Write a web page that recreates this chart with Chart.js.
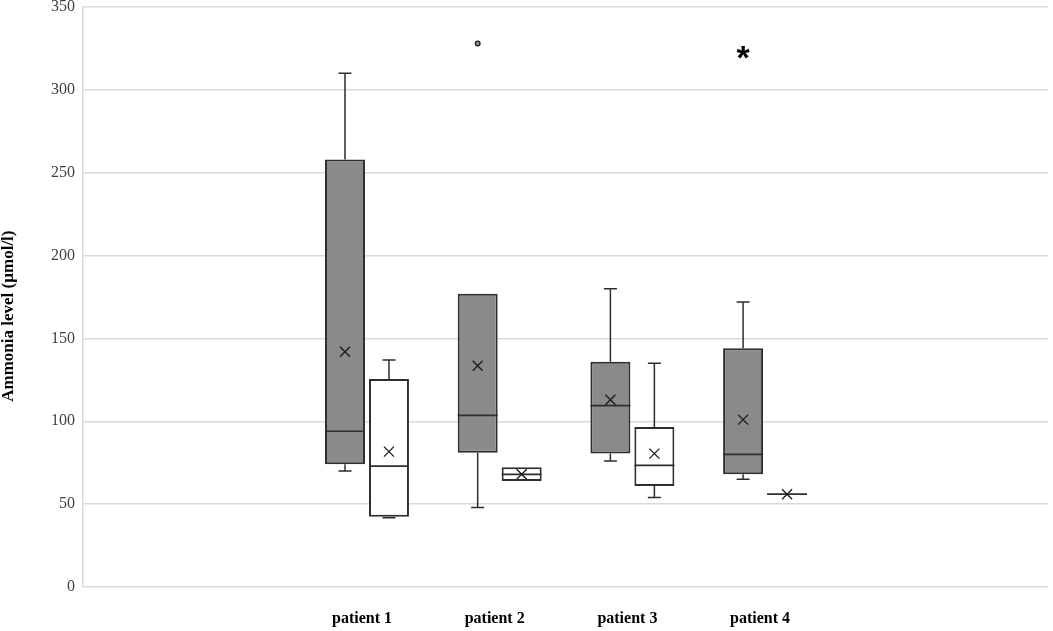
<!DOCTYPE html>
<html>
<head>
<meta charset="utf-8">
<script src="https://cdn.jsdelivr.net/npm/chart.js@4"></script>
<style>
html,body{margin:0;padding:0;background:#fff;}
#wrap{width:1053px;height:631px;position:relative;}
</style>
</head>
<body>
<div id="wrap"><canvas id="c" width="1053" height="631"></canvas></div>
<script>
// ---- data ----
const categories = ['patient 1', 'patient 2', 'patient 3', 'patient 4'];
const tickPositions = [1, 2, 3, 4];
const yTicks = [0, 50, 100, 150, 200, 250, 300, 350];

// Series A (grey boxes)
const greyMin    = [70, 48, 76, 65];
const greyQ1     = [74, 81, 80.5, 68];
const greyMedian = [94, 103.6, 109.4, 80];
const greyQ3     = [258, 177, 136, 144];
const greyMax    = [310, 177, 180, 172];
const greyMean   = [142, 133.5, 113, 101];
const greyOutliers = [[], [328], [], []];
const greyExtremes = [[], [], [], [322.5]];

// Series B (white boxes)
const whiteMin    = [41.8, 64, 54, 56];
const whiteQ1     = [42.4, 64, 61, 56];
const whiteMedian = [73, 68, 73.4, 56];
const whiteQ3     = [125.5, 72.2, 96.6, 56];
const whiteMax    = [137, 72.2, 135, 56];
const whiteMean   = [81.7, 68, 80.5, 56];
const whiteOutliers = [[], [], [], []];
const whiteExtremes = [[], [], [], []];

const series = [
  {label: 'grey', fill: '#8a8a8a', min: greyMin, q1: greyQ1, med: greyMedian, q3: greyQ3, max: greyMax, mean: greyMean, out: greyOutliers, ext: greyExtremes},
  {label: 'white', fill: '#ffffff', min: whiteMin, q1: whiteQ1, med: whiteMedian, q3: whiteQ3, max: whiteMax, mean: whiteMean, out: whiteOutliers, ext: whiteExtremes}
];

const STROKE = '#2e2e2e';

const boxPlugin = {
  id: 'boxExtras',
  afterDatasetsDraw(chart) {
    const ctx = chart.ctx;
    const ys = chart.scales.y;
    series.forEach((s, di) => {
      const meta = chart.getDatasetMeta(di);
      meta.data.forEach((bar, i) => {
        const cx = bar.x;
        const half = bar.width / 2;
        const py = v => ys.getPixelForValue(v);
        ctx.save();
        ctx.strokeStyle = STROKE;
        ctx.lineWidth = 1.5;
        ctx.lineCap = 'butt';
        const cap = 6.5;
        if (s.max[i] > s.q3[i]) {
          ctx.beginPath();
          ctx.moveTo(cx, py(s.q3[i])); ctx.lineTo(cx, py(s.max[i]));
          ctx.moveTo(cx - cap, py(s.max[i])); ctx.lineTo(cx + cap, py(s.max[i]));
          ctx.stroke();
        }
        if (s.min[i] < s.q1[i]) {
          ctx.beginPath();
          ctx.moveTo(cx, py(s.q1[i])); ctx.lineTo(cx, py(s.min[i]));
          ctx.moveTo(cx - cap, py(s.min[i])); ctx.lineTo(cx + cap, py(s.min[i]));
          ctx.stroke();
        }
        // median
        ctx.lineWidth = 1.7;
        ctx.beginPath();
        ctx.moveTo(cx - half, py(s.med[i])); ctx.lineTo(cx + half, py(s.med[i]));
        ctx.stroke();
        // mean (x marker)
        const my = py(s.mean[i]);
        const r = 5;
        ctx.strokeStyle = '#1a1a1a';
        ctx.lineWidth = 1.3;
        ctx.beginPath();
        ctx.moveTo(cx - r, my - r); ctx.lineTo(cx + r, my + r);
        ctx.moveTo(cx - r, my + r); ctx.lineTo(cx + r, my - r);
        ctx.stroke();
        // outliers (circles)
        s.out[i].forEach(v => {
          ctx.beginPath();
          ctx.arc(cx, py(v), 2.3, 0, Math.PI * 2);
          ctx.fillStyle = '#9a9a9a';
          ctx.fill();
          ctx.strokeStyle = '#222';
          ctx.lineWidth = 1.4;
          ctx.stroke();
        });
        // extreme outliers (asterisk)
        s.ext[i].forEach(v => {
          const y = py(v);
          ctx.fillStyle = '#000';
          ctx.font = "bold 34px 'Liberation Sans', Arial, sans-serif";
          ctx.textAlign = 'center';
          ctx.textBaseline = 'alphabetic';
          const m = ctx.measureText('*');
          const asc = m.actualBoundingBoxAscent, desc = m.actualBoundingBoxDescent;
          const base = y + (asc - desc) / 2;
          ctx.fillText('*', cx, base);
        });
        ctx.restore();
      });
    });
  }
};

const datasets = series.map(s => ({
  label: s.label,
  data: tickPositions.map((x, i) => ({x: x, y: [s.q1[i], s.q3[i]]})),
  backgroundColor: s.fill,
  borderColor: STROKE,
  borderWidth: 2,
  borderSkipped: false,
  categoryPercentage: 0.663,
  barPercentage: 0.909
}));

new Chart(document.getElementById('c'), {
  type: 'bar',
  data: { datasets },
  plugins: [boxPlugin],
  options: {
    responsive: false,
    animation: false,
    devicePixelRatio: 1,
    layout: { padding: { top: 7, right: 5, left: 0, bottom: 0 } },
    plugins: { legend: { display: false }, tooltip: { enabled: false } },
    scales: {
      x: {
        type: 'linear',
        offset: false,
        min: -1.14,
        max: 6.132,
        grid: { display: false, drawTicks: false, offset: false },
        border: { display: false },
        afterBuildTicks: (scale) => { scale.ticks = tickPositions.map(v => ({value: v})); },
        afterFit: (scale) => { scale.height = 44; scale.paddingLeft = 0; scale.paddingRight = 0; },
        ticks: {
          padding: 22,
          labelOffset: -5,
          autoSkip: false,
          maxRotation: 0,
          color: '#000',
          font: { family: "'Liberation Serif', 'Times New Roman', serif", size: 16, weight: 'bold' },
          callback: (v) => { const i = tickPositions.indexOf(v); return i >= 0 ? categories[i] : ''; }
        }
      },
      y: {
        min: 0,
        max: 350,
        afterBuildTicks: (scale) => { scale.ticks = yTicks.map(v => ({value: v})); },
        afterFit: (scale) => { scale.width = 83; scale.paddingTop = 0; scale.paddingBottom = 0; },
        grid: { color: '#d9d9d9', lineWidth: 1.5, drawTicks: false },
        border: { display: true, color: '#d9d9d9', width: 1.5 },
        ticks: {
          padding: 8,
          color: '#404040',
          font: { family: "'Liberation Serif', 'Times New Roman', serif", size: 16 }
        },
        title: {
          display: true,
          text: 'Ammonia level (µmol/l)\u00a0\u00a0\u00a0\u00a0\u00a0\u00a0\u00a0\u00a0\u00a0',
          color: '#000',
          padding: { top: 0, bottom: 0 },
          font: { family: "'Liberation Serif', 'Times New Roman', serif", size: 17, weight: 'bold', lineHeight: 1.0 }
        }
      }
    }
  }
});
</script>
</body>
</html>
